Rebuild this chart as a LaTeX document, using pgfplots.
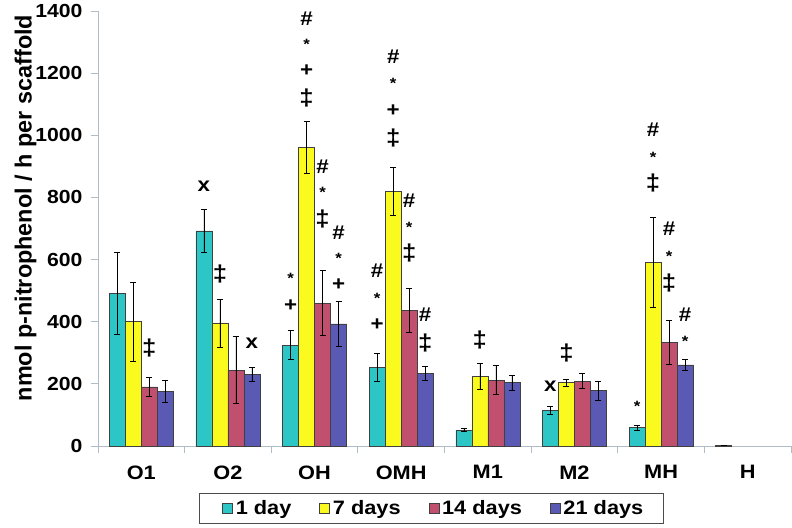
\documentclass[border=0pt]{standalone}
\usepackage{fontspec}
\setmainfont{Liberation Sans}[FakeStretch=1.12]
\newfontfamily\plainsans{Liberation Sans}
\usepackage{pgfplots}
\pgfplotsset{compat=1.18}
\definecolor{cA}{RGB}{44,198,198}
\definecolor{cB}{RGB}{250,250,30}
\definecolor{cC}{RGB}{192,80,110}
\definecolor{cD}{RGB}{90,90,180}
\definecolor{axgray}{RGB}{176,188,198}
\tikzset{
  annot/.style={font=\bfseries\fontsize{20}{21}\selectfont, inner sep=0pt,
    text height=0.72em, text depth=0pt, anchor=center},
  star/.style={annot, font=\bfseries\fontsize{15}{16}\selectfont, yshift=-3.3bp},
  ex/.style={annot, yshift=1.9bp},
  dd/.style={annot, font=\bfseries\fontsize{23}{24}\selectfont, yshift=0bp},
}
\begin{document}
\begin{tikzpicture}
\pgfplotsset{
  mybar/.style={ybar, bar width=16bp, bar shift=0pt, draw=black!75, line width=0.5pt,
    legend image code/.code={\path (0bp,0bp); \draw[##1, line width=0.5pt] (6bp,-5bp) rectangle (16bp,5bp);},
    error bars/y dir=both, error bars/y explicit,
    error bars/error bar style={black, line width=0.5pt},
    error bars/error mark options={rotate=90, mark size=3bp, black, line width=0.5pt}},
}
\begin{axis}[
  at={(0,0)}, anchor=south west,
  scale only axis, width=693bp, height=435bp,
  xmin=-0.5, xmax=7.5, ymin=0, ymax=1400,
  axis lines*=left,
  axis line style={draw=axgray, line width=0.8pt},
  tick style={draw=axgray, line width=0.8pt},
  tick align=outside, major tick length=7bp,
  xtick={-0.5,0.5,1.5,2.5,3.5,4.5,5.5,6.5,7.5},
  xticklabels={O1,O2,OH,OMH,M1,M2,MH,H,{}},
  xticklabel style={xshift=43.3bp, yshift=-9bp, font=\bfseries\fontsize{19.5}{20}\selectfont},
  ytick={0,200,...,1400},
  yticklabel style={xshift=-5bp, font=\bfseries\fontsize{19}{20}\selectfont},
  /pgf/number format/assume math mode=true,
  /pgf/number format/1000 sep={},
  ylabel={nmol p-nitrophenol / h per scaffold},
  ylabel style={at={(axis description cs:-0.1045,0.547)}, anchor=center,
    font=\plainsans\bfseries\fontsize{23.5}{24}\selectfont},
  clip=false,
  legend columns=4,
  legend style={at={(axis description cs:0.1457,-0.108)}, anchor=north west,
    draw=black!70, line width=0.6pt,
    font=\bfseries\fontsize{19.5}{20}\selectfont,
    inner xsep=17bp, inner ysep=5bp,
    nodes={inner xsep=3bp, inner ysep=2bp},
    /tikz/every even column/.append style={column sep=19bp}},
]
% 1 day (bars at category - 0.2771)
\addplot[mybar, fill=cA] coordinates {
  (-0.2771,492) +- (0,132) (0.7229,692) +- (0,69) (1.7229,325) +- (0,46) (2.7229,253) +- (0,44)
  (3.7229,51) +- (0,5) (4.7229,115) +- (0,13) (5.7229,60) +- (0,8) (6.7229,3) +- (0,1)};
% 7 days (category - 0.0924)
\addplot[mybar, fill=cB] coordinates {
  (-0.0924,400) +- (0,127) (0.9076,396) +- (0,77) (1.9076,962) +- (0,83) (2.9076,820) +- (0,77)
  (3.9076,225) +- (0,42) (4.9076,204) +- (0,11) (5.9076,592) +- (0,145)};
% 14 days (category + 0.0924)
\addplot[mybar, fill=cC] coordinates {
  (0.0924,190) +- (0,30) (1.0924,244) +- (0,108) (2.0924,460) +- (0,105) (3.0924,437) +- (0,71)
  (4.0924,212) +- (0,47) (5.0924,209) +- (0,24) (6.0924,334) +- (0,71)};
% 21 days (category + 0.2771)
\addplot[mybar, fill=cD] coordinates {
  (0.2771,177) +- (0,36) (1.2771,231) +- (0,22) (2.2771,393) +- (0,72) (3.2771,234) +- (0,23)
  (4.2771,204) +- (0,24) (5.2771,178) +- (0,32) (6.2771,261) +- (0,18)};
\legend{1 day, 7 days, 14 days, 21 days}
% O1
\node[dd] at (axis cs:0.092,303) {‡};
% O2
\node[ex] at (axis cs:0.723,824) {x};
\node[dd] at (axis cs:0.908,540) {‡};
\node[ex] at (axis cs:1.277,319) {x};
% OH
\node[star] at (axis cs:1.723,545) {*};
\node[annot] at (axis cs:1.723,443) {+};
\node[annot] at (axis cs:1.908,1366) {\#};
\node[star] at (axis cs:1.908,1298) {*};
\node[annot] at (axis cs:1.908,1202) {+};
\node[dd] at (axis cs:1.908,1108) {‡};
\node[annot] at (axis cs:2.092,889) {\#};
\node[star] at (axis cs:2.092,822) {*};
\node[dd] at (axis cs:2.092,719) {‡};
\node[annot] at (axis cs:2.277,677) {\#};
\node[star] at (axis cs:2.277,610) {*};
\node[annot] at (axis cs:2.277,511) {+};
% OMH
\node[annot] at (axis cs:2.723,553) {\#};
\node[star] at (axis cs:2.723,482) {*};
\node[annot] at (axis cs:2.723,384) {+};
\node[annot] at (axis cs:2.908,1241) {\#};
\node[star] at (axis cs:2.908,1173) {*};
\node[annot] at (axis cs:2.908,1071) {+};
\node[dd] at (axis cs:2.908,980) {‡};
\node[annot] at (axis cs:3.092,779) {\#};
\node[star] at (axis cs:3.092,709) {*};
\node[dd] at (axis cs:3.092,610) {‡};
\node[annot] at (axis cs:3.277,411) {\#};
\node[dd] at (axis cs:3.277,319) {‡};
% M1
\node[dd] at (axis cs:3.908,327) {‡};
% M2
\node[ex] at (axis cs:4.723,180) {x};
\node[dd] at (axis cs:4.908,287) {‡};
% MH
\node[star] at (axis cs:5.723,132) {*};
\node[annot] at (axis cs:5.908,1007) {\#};
\node[star] at (axis cs:5.908,933) {*};
\node[dd] at (axis cs:5.908,833) {‡};
\node[annot] at (axis cs:6.092,688) {\#};
\node[star] at (axis cs:6.092,617) {*};
\node[dd] at (axis cs:6.092,512) {‡};
\node[annot] at (axis cs:6.277,411) {\#};
\node[star] at (axis cs:6.277,344) {*};
\end{axis}
\pgfresetboundingbox
\path (-98bp,-82bp) rectangle (694bp,446bp);
\end{tikzpicture}
\end{document}
